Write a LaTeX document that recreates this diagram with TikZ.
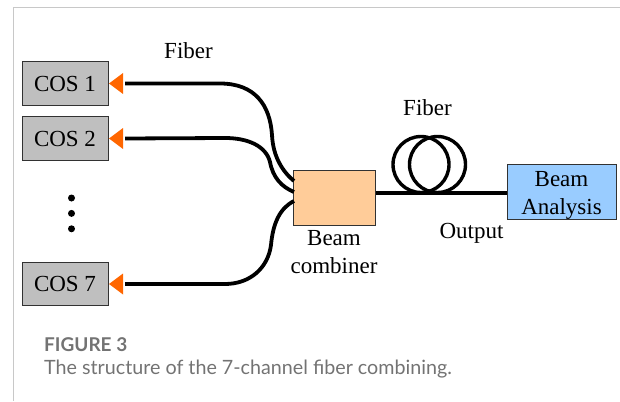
\documentclass[tikz,border=0pt]{standalone}
\usepackage{fontspec}
\setmainfont{Liberation Serif}
\newfontfamily\captionfont{Lato}
\usetikzlibrary{arrows.meta,positioning,shapes.geometric}
\definecolor{cosgray}{RGB}{191,191,191}
\definecolor{portorange}{RGB}{255,102,0}
\definecolor{combinerorange}{RGB}{255,204,153}
\definecolor{analysisblue}{RGB}{153,204,255}
\definecolor{edgegray}{RGB}{50,50,50}
\definecolor{framegray}{RGB}{200,200,200}
\definecolor{captiongray}{RGB}{115,115,115}
\tikzset{
  cos box/.style={
    rectangle, draw=edgegray, line width=1pt, fill=cosgray, align=center,
    minimum width=86pt, minimum height=43.5pt, inner sep=0pt,
    font=\fontsize{23}{25}\selectfont
  },
  main box/.style={
    rectangle, draw=edgegray, line width=1pt, align=center,
    inner sep=0pt, font=\fontsize{23}{28}\selectfont
  },
  port/.style={
    isosceles triangle, isosceles triangle stretches, shape border rotate=180,
    fill=portorange, minimum height=14pt, minimum width=21pt, inner sep=0pt
  },
  fiber/.style={line width=3.8pt, black},
  loop fiber/.style={line width=3.4pt, black},
  label/.style={font=\fontsize{23}{28}\selectfont, align=center, inner sep=0pt},
  dot/.style={circle, fill=black, minimum size=7pt, inner sep=0pt},
  frame line/.style={line width=1pt, framegray}
}

\begin{document}
\begin{tikzpicture}[x=1pt,y=-1pt,node distance=10.5pt]
    \useasboundingbox (0,0) rectangle (620,401);
    \coordinate (frametop) at (13,8);
    \coordinate (frameright) at (620,8);
    \coordinate (framebottom) at (13,401);
    \draw[frame line] (frameright) -- (frametop) -- (framebottom);
    % sources
    \node[cos box] (cos1) at (65,83.5) {COS 1};
    \node[cos box, below=of cos1] (cos2) {COS 2};
    \node[cos box] (cos7) at (65,284) {COS 7};
    \node[port, anchor=apex] (port1) at (cos1.east) {};
    \node[port, anchor=apex] (port2) at (cos2.east) {};
    \node[port, anchor=apex] (port7) at (cos7.east) {};
    \node[dot] (dot1) at (71.5,198) {};
    \node[dot, below=8pt of dot1] (dot2) {};
    \node[dot, below=8pt of dot2] (dot3) {};
    % combiner and output
    \node[main box, fill=combinerorange, minimum width=82pt, minimum height=55pt] (combiner) at (334.5,197.5) {};
    \node[main box, fill=analysisblue, minimum width=109pt, minimum height=54pt] (analysis) at (561.5,192) {\rule{0pt}{22pt}Beam\\Analysis};
    \coordinate (in1) at (294,181);
    \coordinate (in2) at (294,192);
    \coordinate (in7) at (294,201);
    \coordinate (out) at (375.5,193);
    % fibers
    \draw[fiber] ([xshift=2pt]port1.east) -- (220,83.5) .. controls (255,83.5) and (270,105) .. (272,135) .. controls (273,157) and (283,172) .. (in1);
    \draw[fiber] ([xshift=2pt]port2.east) -- (225,138) .. controls (248,138) and (266,146) .. (270,162) .. controls (273,178) and (282,187) .. (in2);
    \draw[fiber] ([xshift=2pt]port7.east) -- (225,284) .. controls (250,284) and (268,268) .. (271,245) .. controls (273,223) and (280,208) .. (in7);
    \draw[fiber] (out) -- (analysis.west |- out);
    \node[circle, loop fiber, draw, minimum size=56pt, inner sep=0pt] (coil1) at (421,164.5) {};
    \node[circle, loop fiber, draw, minimum size=56pt, inner sep=0pt] (coil2) at (437.5,164.5) {};
    % labels
    \node[label] (fiber1) at (188.5,51) {Fiber};
    \node[label] (fiber2) at (427.5,108) {Fiber};
    \node[label] (combinerlabel) at (334,252) {Beam\\combiner};
    \node[label] (output) at (471.5,233) {Output};
    % caption
    \node[anchor=base west, inner sep=0pt, text=captiongray, font=\captionfont\bfseries\fontsize{19}{22}\selectfont] (figlabel) at (44,351) {FIGURE 3};
    \node[anchor=base west, inner sep=0pt, text=captiongray, font=\captionfont\fontsize{19.7}{22}\selectfont] (figtext) at (44,374) {The structure of the 7-channel fiber combining.};
\end{tikzpicture}
\end{document}
